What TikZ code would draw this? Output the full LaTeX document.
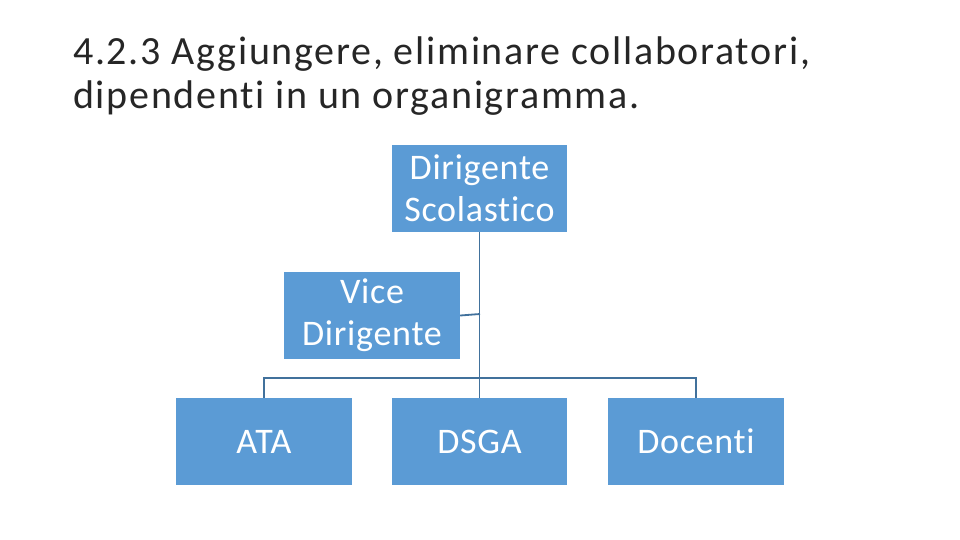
\documentclass[tikz,border=0pt]{standalone}
\usepackage{fontspec}
\setmainfont[Ligatures=NoCommon,LetterSpace=2]{Carlito}
\newfontfamily\titlefont[Ligatures=NoCommon,LetterSpace=4.3]{Carlito}
\definecolor{boxblue}{HTML}{5B9BD5}
\definecolor{linkblue}{HTML}{41719C}
\begin{document}
\begin{tikzpicture}[x=1pt,y=-1pt,
  orgbox/.style={fill=boxblue, draw=none, text=white, align=center,
    font=\fontsize{36}{42}\selectfont, inner sep=0pt},
  link/.style={draw=linkblue, line width=1.8pt}]
\useasboundingbox (0,0) rectangle (960,540);
\fill[white] (0,0) rectangle (960,540);
\node[anchor=north west, align=left, inner sep=0pt, text=black!85, font=\titlefont\fontsize{40}{44}\selectfont]
  (title) at (73,37) {4.2.3 Aggiungere, eliminare collaboratori,\\dipendenti in un organigramma.};
\node[orgbox, minimum width=175pt, minimum height=87pt] (ds) at (479.5,188.5) {Dirigente\\Scolastico};
\node[orgbox, minimum width=176pt, minimum height=87pt] (vd) at (372,315.5) {Vice\\Dirigente};
\node[orgbox, minimum width=176pt, minimum height=87pt] (ata) at (264,441.5) {ATA};
\node[orgbox, minimum width=175pt, minimum height=87pt] (dsga) at (479.5,441.5) {DSGA};
\node[orgbox, minimum width=176pt, minimum height=87pt] (doc) at (696,441.5) {Docenti};
\coordinate (bar) at (480,378);
\coordinate (vj) at (480,314);
\draw[link] (ds.south) -- (dsga.north);
\draw[link] (vd.east) -- (vj);
\draw[link] (ata.north) -- (ata.north |- bar) -- (doc.north |- bar) -- (doc.north);
\end{tikzpicture}
\end{document}
